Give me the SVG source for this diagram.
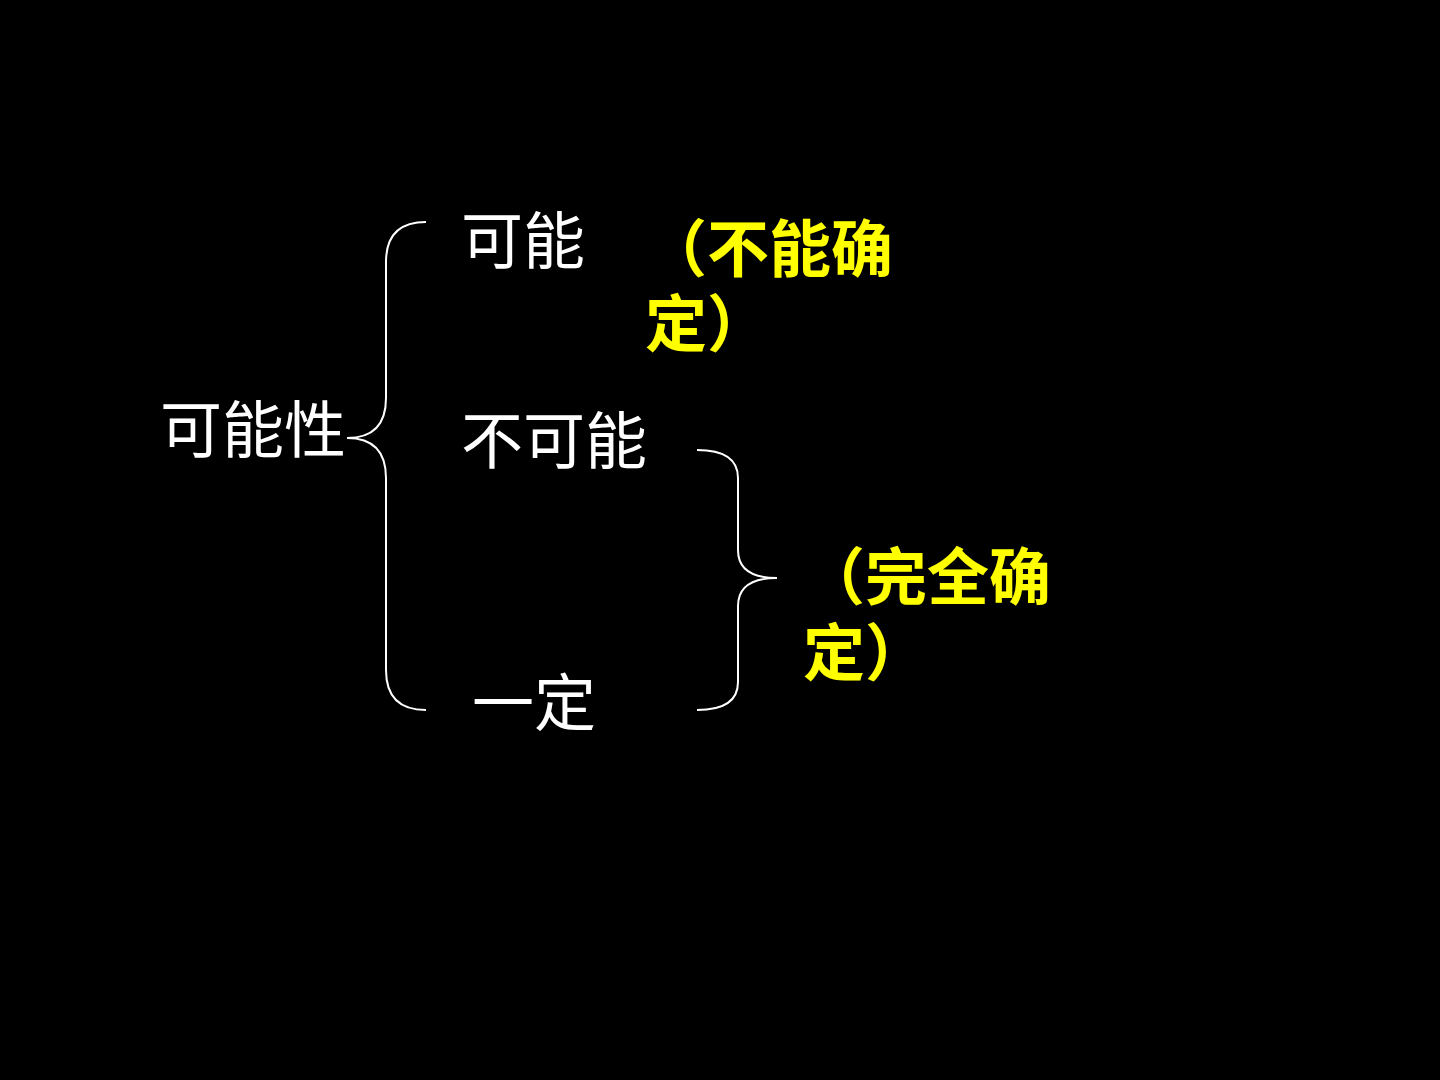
<svg xmlns="http://www.w3.org/2000/svg" width="1440" height="1080" viewBox="0 0 1440 1080">
<style>
.w{fill:#ffffff;font-family:"Noto Sans CJK SC","Noto Sans CJK TC",sans-serif;font-size:62px;font-weight:400}
.y{fill:#ffff00;font-family:"Noto Sans CJK SC","Noto Sans CJK TC",sans-serif;font-size:62px;font-weight:700}
.br{fill:none;stroke:#ffffff;stroke-width:2}
</style>
<rect x="0" y="0" width="1440" height="1080" fill="#000000"/>
<g id="connectors">
<path class="br" d="M426,222 Q386,222 386,262 L386,398 Q386,438 347,438 Q386,438 386,478 L386,670 Q386,710 426,710"/>
<path class="br" d="M697,450 Q738,450 738,478 L738,550 Q738,578 777,578 Q738,578 738,606 L738,682 Q738,710 697,710"/>
</g>
<g id="node-root"><text class="w" x="160" y="453">可能性</text></g>
<g id="node-possible"><text class="w" x="461" y="264">可能</text></g>
<g id="node-impossible"><text class="w" x="461" y="464">不可能</text></g>
<g id="node-certain"><text class="w" x="472" y="726">一定</text></g>
<g id="note-uncertain"><text class="y" x="645" y="272"><tspan x="645">（不能确</tspan><tspan x="645" dy="75">定）</tspan></text></g>
<g id="note-certain"><text class="y" x="803" y="600"><tspan x="803">（完全确</tspan><tspan x="803" dy="76">定）</tspan></text></g>
</svg>
